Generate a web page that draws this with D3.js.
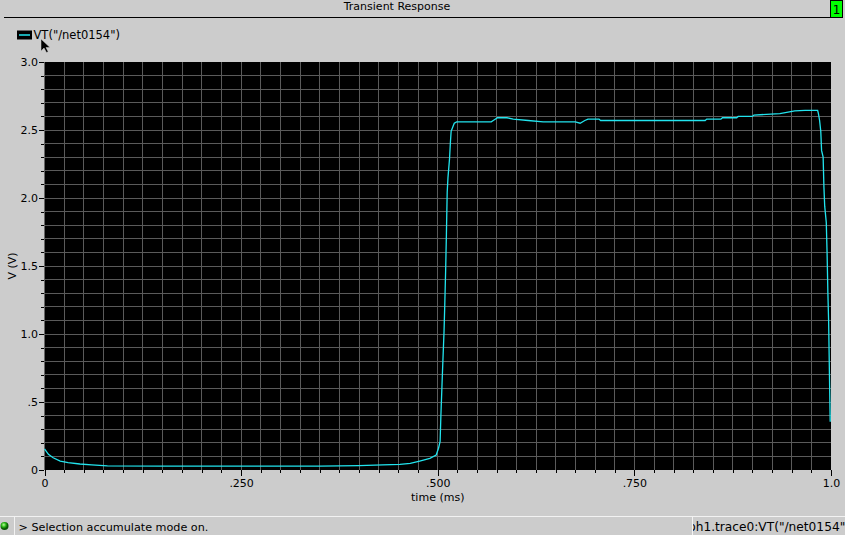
<!DOCTYPE html>
<html>
<head>
<meta charset="utf-8">
<script src="https://cdn.jsdelivr.net/npm/d3@7"></script>
<style>
  body { margin: 0; background: #cccccc; }
  svg { display: block; font-family: "DejaVu Sans", sans-serif; }
  .tick text { font-size: 11px; fill: #000; }
</style>
</head>
<body>
<div id="chart"></div>
<script>
// datos
const timeMs = [0, 0.005, 0.011, 0.02, 0.03, 0.045, 0.06, 0.08, 0.15, 0.25, 0.35, 0.40, 0.43, 0.452,
  0.465, 0.477, 0.490, 0.498, 0.501, 0.503, 0.504, 0.506, 0.508, 0.509, 0.510, 0.511, 0.512,
  0.513, 0.515, 0.516, 0.517, 0.519, 0.521, 0.524, 0.568, 0.572, 0.576, 0.588, 0.596, 0.615,
  0.634, 0.675, 0.681, 0.687, 0.691, 0.705, 0.707, 0.840, 0.842, 0.860, 0.862, 0.880, 0.882,
  0.900, 0.902, 0.935, 0.954, 0.967, 0.983, 0.984, 0.9855, 0.987, 0.988, 0.990, 0.991, 0.992,
  0.994, 0.995, 0.996, 0.997, 0.998, 0.999];
const voltage = [0.155, 0.115, 0.09, 0.066, 0.055, 0.044, 0.037, 0.03, 0.028, 0.028, 0.029, 0.032, 0.037, 0.042,
  0.049, 0.066, 0.086, 0.11, 0.16, 0.21, 0.40, 0.72, 1.02, 1.23, 1.46, 1.73, 2.04,
  2.15, 2.29, 2.40, 2.49, 2.52, 2.55, 2.56, 2.56, 2.575, 2.59, 2.59, 2.58, 2.57,
  2.56, 2.56, 2.55, 2.57, 2.58, 2.58, 2.57, 2.57, 2.58, 2.58, 2.59, 2.59, 2.60,
  2.60, 2.61, 2.62, 2.64, 2.645, 2.645, 2.62, 2.57, 2.49, 2.35, 2.30, 2.08, 1.94,
  1.82, 1.60, 1.31, 1.09, 0.71, 0.355];

const yTicks = [0, 0.5, 1, 1.5, 2, 2.5, 3];
const yTickLabels = ["0", ".5", "1.0", "1.5", "2.0", "2.5", "3.0"];
const xTicks = [0, 0.25, 0.5, 0.75, 1];
const xTickLabels = ["0", ".250", ".500", ".750", "1.0"];

const title = "Transient Response";
const traceName = 'VT("/net0154")';
const statusText = "> Selection accumulate mode on.";
const statusRight = 'graph1.trace0:VT("/net0154")';

const width = 845;
const height = 535;
const plot = { left: 44.5, right: 831, top: 62, bottom: 470 };

const svg = d3.select("div#chart").append("svg")
  .attr("width", width)
  .attr("height", height);

svg.append("rect").attr("width", width).attr("height", height).attr("fill", "#cccccc");

// escalas
const x = d3.scaleLinear().domain([0, 1]).range([plot.left, plot.right]);
const y = d3.scaleLinear().domain([0, 3]).range([plot.bottom, plot.top]);

// cabecera
svg.append("text")
  .attr("x", 397).attr("y", 9.5)
  .attr("text-anchor", "middle")
  .attr("font-size", 11)
  .text(title);

svg.append("line")
  .attr("x1", 4).attr("x2", 830).attr("y1", 17.5).attr("y2", 17.5)
  .attr("stroke", "#000");

svg.append("rect")
  .attr("x", 830.5).attr("y", 0.5).attr("width", 12).attr("height", 17)
  .attr("fill", "#00ff00").attr("stroke", "#000");
svg.append("text")
  .attr("x", 836.5).attr("y", 14).attr("text-anchor", "middle")
  .attr("font-size", 12).text("1");

// leyenda
svg.append("rect")
  .attr("x", 17).attr("y", 30.5).attr("width", 15).attr("height", 9)
  .attr("fill", "#000");
svg.append("line")
  .attr("x1", 19).attr("x2", 30).attr("y1", 35).attr("y2", 35)
  .attr("stroke", "#22e4ee").attr("stroke-width", 1.5);
svg.append("text")
  .attr("x", 33.5).attr("y", 38.5)
  .attr("font-size", 11.5)
  .text(traceName);

// cursor
svg.append("path")
  .attr("d", "M41,39 L41,51 L44,48 L46.5,52.5 L48.2,51.7 L46,47.5 L50,47.5 Z")
  .attr("fill", "#000").attr("stroke", "#cccccc").attr("stroke-width", 0.5);

// area del grafico
svg.append("rect")
  .attr("x", plot.left).attr("y", plot.top)
  .attr("width", plot.right - plot.left).attr("height", plot.bottom - plot.top)
  .attr("fill", "#000");

const gridGroup = svg.append("g").attr("id", "grid")
  .attr("stroke", "#5a5a5a").attr("shape-rendering", "crispEdges");

const xGrid = d3.range(1, 40).map((i) => i * 0.025);
const yGrid = d3.range(1, 30).map((i) => i * 0.1);

gridGroup.selectAll("line.v").data(xGrid).enter().append("line")
  .attr("class", "v")
  .attr("x1", (d) => x(d)).attr("x2", (d) => x(d))
  .attr("y1", plot.top).attr("y2", plot.bottom);

gridGroup.selectAll("line.h").data(yGrid).enter().append("line")
  .attr("class", "h")
  .attr("x1", plot.left).attr("x2", plot.right)
  .attr("y1", (d) => y(d)).attr("y2", (d) => y(d));

// ejes
const yAxisMinor = d3.axisLeft(y).tickValues(d3.range(0, 31).map((i) => i * 0.1)).tickSize(3).tickFormat("");
const yAxis = d3.axisLeft(y).tickValues(yTicks).tickSize(5).tickPadding(1)
  .tickFormat((d, i) => yTickLabels[i]);
const xAxisMinor = d3.axisBottom(x).tickValues(d3.range(0, 41).map((i) => i * 0.025)).tickSize(3).tickFormat("");
const xAxis = d3.axisBottom(x).tickValues(xTicks).tickSize(6).tickPadding(3)
  .tickFormat((d, i) => xTickLabels[i]);

function drawAxis(g, axis) {
  g.call(axis);
  g.select(".domain").remove();
  g.selectAll("line").attr("shape-rendering", "crispEdges");
  g.attr("font-family", null).attr("font-size", null);
}

svg.append("g").attr("transform", `translate(${plot.left - 0.5},0)`).call(drawAxis, yAxisMinor);
svg.append("g").attr("transform", `translate(${plot.left - 0.5},0)`).call(drawAxis, yAxis);
svg.append("g").attr("transform", `translate(0,${plot.bottom})`).call(drawAxis, xAxisMinor);
svg.append("g").attr("transform", `translate(0,${plot.bottom})`).call(drawAxis, xAxis);

svg.append("text")
  .attr("x", x(0.5)).attr("y", 500.5)
  .attr("text-anchor", "middle")
  .attr("font-size", 11)
  .text("time (ms)");

svg.append("text")
  .attr("transform", "translate(16,266) rotate(-90)")
  .attr("text-anchor", "middle")
  .attr("font-size", 11)
  .text("V (V)");

// traza
const data = timeMs.map((t, i) => ({ t: t, v: voltage[i] }));
const line = d3.line().x((d) => x(d.t)).y((d) => y(d.v));

svg.append("path")
  .datum(data)
  .attr("d", line)
  .attr("fill", "none")
  .attr("stroke", "#22e4ee")
  .attr("stroke-width", 1.3);

// barra de estado
const status = svg.append("g").attr("id", "status").attr("shape-rendering", "crispEdges");
status.append("line").attr("x1", 0).attr("x2", width).attr("y1", 516.5).attr("y2", 516.5).attr("stroke", "#f2f2f2");
status.append("line").attr("x1", 14.5).attr("x2", 14.5).attr("y1", 517).attr("y2", height).attr("stroke", "#f2f2f2");
status.append("line").attr("x1", 692.5).attr("x2", 692.5).attr("y1", 517).attr("y2", height).attr("stroke", "#f2f2f2");

const grad = svg.append("defs").append("radialGradient").attr("id", "ball").attr("cx", "40%").attr("cy", "35%");
grad.append("stop").attr("offset", "0%").attr("stop-color", "#b8ff9a");
grad.append("stop").attr("offset", "60%").attr("stop-color", "#22b010");
grad.append("stop").attr("offset", "100%").attr("stop-color", "#0a5a05");
svg.append("circle").attr("cx", 4.5).attr("cy", 526).attr("r", 4).attr("fill", "url(#ball)");

svg.append("text")
  .attr("x", 18.5).attr("y", 530.5)
  .attr("font-size", 11.2)
  .text(statusText);

svg.select("defs").append("clipPath").attr("id", "rightClip")
  .append("rect").attr("x", 693).attr("y", 517).attr("width", 152).attr("height", 18);
svg.append("text")
  .attr("clip-path", "url(#rightClip)")
  .attr("x", 850).attr("y", 530.5)
  .attr("text-anchor", "end")
  .attr("font-size", 12.2)
  .text(statusRight);
</script>
</body>
</html>
